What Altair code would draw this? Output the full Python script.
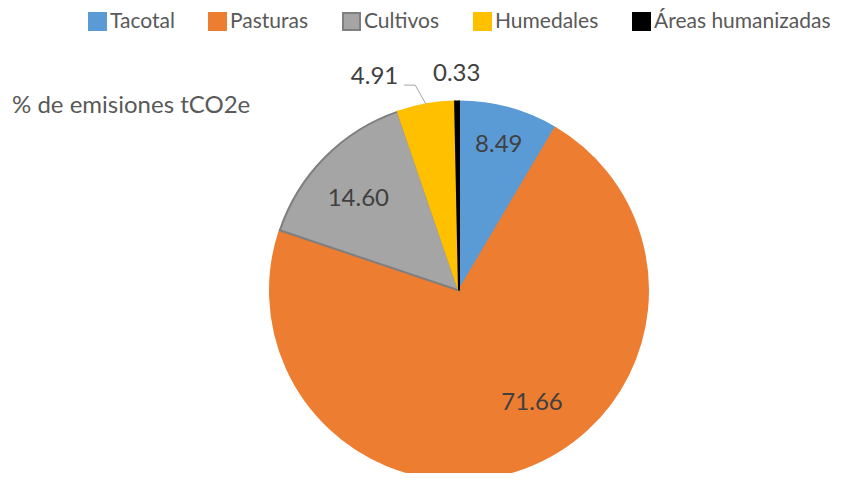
import altair as alt
import pandas as pd

categories = ["Tacotal", "Pasturas", "Cultivos", "Humedales", "Áreas humanizadas"]
values = [8.49, 71.66, 14.60, 4.91, 0.33]
labels = ["8.49", "71.66", "14.60", "4.91", "0.33"]
fill_colors = ["#5B9BD5", "#ED7D31", "#A5A5A5", "#FFC000", "#000000"]
stroke_colors = ["#5B9BD5", "#ED7D31", "#7F7F7F", "#FFC000", "#000000"]
title_text = "% de emisiones tCO2e"

df = pd.DataFrame({"cat": categories, "value": values, "label": labels,
                   "order": list(range(len(categories)))})

CX, CY, R = 451, 282.5, 189
FONT = "Lato"

legend = alt.Legend(
    title=None, orient="none", legendX=79, legendY=3, direction="horizontal",
    columns=5, symbolType="square", symbolSize=289, symbolStrokeWidth=2,
    labelFont=FONT, labelFontSize=21, labelColor="#595959", labelLimit=400,
    columnPadding=30, labelOffset=2, padding=0,
)

arc = alt.Chart(df).mark_arc(radius=R, strokeWidth=2).encode(
    theta=alt.Theta("value:Q", stack=True),
    order=alt.Order("order:Q"),
    color=alt.Color("cat:N", scale=alt.Scale(domain=categories, range=fill_colors), legend=legend),
    stroke=alt.Stroke("cat:N", scale=alt.Scale(domain=categories, range=stroke_colors), legend=legend),
    x=alt.value(CX),
    y=alt.value(CY),
)

base = alt.Chart(df).transform_joinaggregate(total="sum(value)").transform_window(
    cum="sum(value)", sort=[alt.SortField("order")], frame=[None, 0]
).transform_calculate(
    mid="(datum.cum - datum.value/2)/datum.total*2*PI"
)

lab = base.transform_filter("datum.cat != 'Humedales'").transform_calculate(
    adj="datum.cat == 'Pasturas' ? -12.6*PI/180 : (datum.cat == 'Cultivos' ? -2.6*PI/180 : 0)",
    lr="datum.cat == 'Tacotal' ? 151 : (datum.cat == 'Pasturas' ? 134 : (datum.cat == 'Cultivos' ? 136 : 216.5))",
).transform_calculate(
    px=f"{CX} + datum.lr*sin(datum.mid + datum.adj)",
    py=f"{CY} - datum.lr*cos(datum.mid + datum.adj)",
).mark_text(font=FONT, fontSize=24, color="#404040", align="center", baseline="middle").encode(
    x=alt.X("px:Q", scale=None, axis=None),
    y=alt.Y("py:Q", scale=None, axis=None),
    text="label:N",
)

hum = base.transform_filter("datum.cat == 'Humedales'").transform_calculate(
    x1=f"{CX} + {R}*sin(datum.mid)",
    y1=f"{CY} - {R}*cos(datum.mid)",
    x2=f"{CX} + 210*sin(datum.mid - 2*PI/180)",
    y2=f"{CY} - 210*cos(datum.mid - 2*PI/180)",
).transform_calculate(
    x3="datum.x2 - 11",
    tx="datum.x2 - 17",
    ty="datum.y2 - 8",
)

lead1 = hum.mark_rule(color="#A6A6A6", strokeWidth=1).encode(
    x=alt.X("x1:Q", scale=None, axis=None), y=alt.Y("y1:Q", scale=None, axis=None),
    x2="x2:Q", y2="y2:Q",
)
lead2 = hum.mark_rule(color="#A6A6A6", strokeWidth=1).encode(
    x=alt.X("x2:Q", scale=None, axis=None), y=alt.Y("y2:Q", scale=None, axis=None),
    x2="x3:Q", y2="y2:Q",
)
humlab = hum.mark_text(font=FONT, fontSize=24, color="#404040", align="right", baseline="middle").encode(
    x=alt.X("tx:Q", scale=None, axis=None),
    y=alt.Y("ty:Q", scale=None, axis=None),
    text="label:N",
)

ttl = alt.Chart(pd.DataFrame({"t": [title_text]})).mark_text(
    font=FONT, fontSize=24, color="#595959", align="left", baseline="middle"
).encode(x=alt.value(4), y=alt.value(98), text="t:N")

chart = alt.layer(arc, lab, lead1, lead2, humlab, ttl).properties(
    width=828, height=465, autosize="none", padding=0, background="white"
).configure_view(stroke=None)

chart.save("out.html", embed_options={"renderer": "svg", "actions": False})
